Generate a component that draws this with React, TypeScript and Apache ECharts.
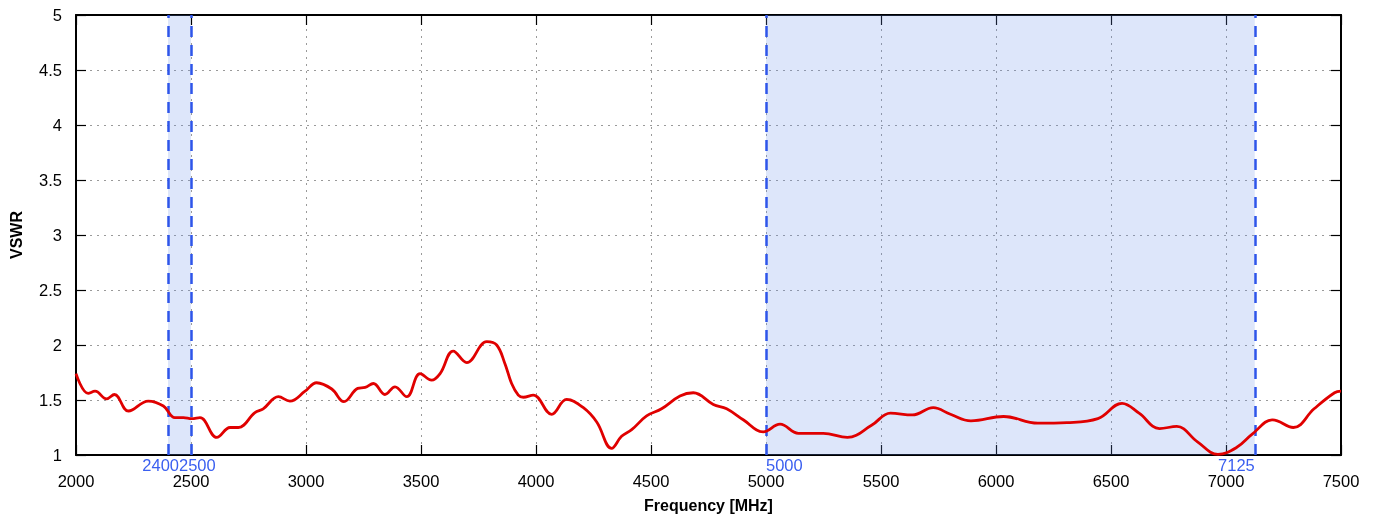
import React, { useEffect, useRef } from "react";
import * as echarts from "echarts";

const freqMHz = [
  2000, 2053, 2083, 2133, 2167, 2228, 2314, 2380, 2430, 2467, 2503, 2539, 2612, 2670, 2706, 2778, 2814, 2880, 2930, 2996,
  3046, 3112, 3165, 3225, 3257, 3293, 3343, 3387, 3438, 3496, 3546, 3583, 3640, 3699, 3786, 3829, 3865, 3894, 3923, 3945, 3988,
  4068, 4133, 4206, 4264, 4329, 4372, 4416, 4481, 4546, 4626, 4684, 4771, 4829, 4901, 4988,
  5061, 5141, 5249, 5354, 5459, 5541, 5637, 5727, 5802, 5891, 6033, 6182, 6309, 6443, 6548, 6622, 6711, 6786, 6876,
  6965, 7047, 7114, 7203, 7293, 7383, 7472, 7500,
];
const vswr = [
  1.74, 1.56, 1.58, 1.51, 1.55, 1.4, 1.49, 1.445, 1.34, 1.34, 1.33, 1.34, 1.16, 1.25, 1.25, 1.385, 1.42, 1.53, 1.49, 1.58,
  1.657, 1.6, 1.485, 1.606, 1.615, 1.65, 1.55, 1.62, 1.53, 1.74, 1.68, 1.74, 1.945, 1.84, 2.03, 2.0, 1.83, 1.65, 1.545, 1.525, 1.545,
  1.37, 1.506, 1.43, 1.3, 1.06, 1.17, 1.23, 1.355, 1.42, 1.536, 1.566, 1.46, 1.42, 1.32, 1.21,
  1.28, 1.197, 1.197, 1.16, 1.27, 1.38, 1.364, 1.43, 1.37, 1.31, 1.35, 1.29, 1.295, 1.33, 1.47, 1.38, 1.24, 1.26, 1.12,
  1.006, 1.07, 1.19, 1.32, 1.25, 1.42, 1.566, 1.58,
];
const bands: [number, number][] = [
  [2400, 2500],
  [5000, 7125],
];
const markerFreqs = [2400, 2500, 5000, 7125];
const markerAlign = ["right", "left", "left", "right"];
const markerShift = [11, -12, 0, 0];

const xMin = 2000;
const xMax = 7500;
const xStep = 500;
const yMin = 1;
const yMax = 5;
const yStep = 0.5;

const FONT = "'Liberation Sans', Arial, Helvetica, sans-serif";
const BLUE = "#2e55ea";

export default function App() {
  const ref = useRef<HTMLDivElement>(null);
  useEffect(() => {
    if (!ref.current) return;
    const chart = echarts.init(ref.current, undefined, { renderer: "svg" });
    const dataPts = freqMHz.map((f, i) => [f, vswr[i]]);
    const tickStyle = { show: true, inside: true, length: 10, lineStyle: { color: "#000", width: 1.2 } };
    const lineAxis = { show: true, lineStyle: { color: "#000", width: 2 } };
    chart.setOption({
      animation: false,
      textStyle: { fontFamily: FONT },
      grid: { left: 76, right: 37, top: 15, bottom: 63, containLabel: false, outerBoundsMode: "none" },
      xAxis: [
        {
          type: "value",
          min: xMin,
          max: xMax,
          interval: xStep,
          name: "Frequency [MHz]",
          nameLocation: "middle",
          nameGap: 42,
          nameTextStyle: { fontFamily: FONT, fontWeight: "bold", fontSize: 16, color: "#000" },
          axisLine: lineAxis,
          axisTick: tickStyle,
          axisLabel: { color: "#000", fontSize: 16.5, fontFamily: FONT, margin: 17, formatter: (v: number) => String(v) },
          splitLine: { show: true, lineStyle: { color: "#9a9a9a", width: 1, type: [2, 5] } },
        },
        {
          type: "value",
          position: "top",
          min: xMin,
          max: xMax,
          interval: xStep,
          axisLine: lineAxis,
          axisTick: tickStyle,
          axisLabel: { show: false },
          splitLine: { show: false },
        },
      ],
      yAxis: [
        {
          type: "value",
          min: yMin,
          max: yMax,
          interval: yStep,
          name: "VSWR",
          nameLocation: "middle",
          nameGap: 52,
          nameTextStyle: { fontFamily: FONT, fontWeight: "bold", fontSize: 16, color: "#000" },
          axisLine: lineAxis,
          axisTick: tickStyle,
          axisLabel: { color: "#000", fontSize: 16.5, fontFamily: FONT, margin: 14, formatter: (v: number) => String(v) },
          splitLine: { show: true, lineStyle: { color: "#9a9a9a", width: 1, type: [2, 5] } },
        },
        {
          type: "value",
          position: "right",
          min: yMin,
          max: yMax,
          interval: yStep,
          axisLine: lineAxis,
          axisTick: tickStyle,
          axisLabel: { show: false },
          splitLine: { show: false },
        },
      ],
      series: [
        {
          type: "line",
          xAxisIndex: 0,
          yAxisIndex: 0,
          data: dataPts,
          smooth: 0.4,
          showSymbol: false,
          symbol: "none",
          lineStyle: { color: "#e00000", width: 2.8 },
          z: 5,
          markArea: {
            silent: true,
            itemStyle: { color: "rgba(100,140,230,0.22)" },
            data: bands.map(([a, b]) => [{ xAxis: a }, { xAxis: b }]),
          },
          markLine: {
            silent: true,
            symbol: "none",
            label: { show: false },
            lineStyle: { color: BLUE, width: 2.5, type: [11, 8] },
            data: markerFreqs.map((f) => ({ xAxis: f })),
            z: 3,
          },
        },
      ],
    });
    const graphics = markerFreqs.map((f, i) => {
      const px = chart.convertToPixel({ xAxisIndex: 0 }, f) as number;
      return {
        type: "text",
        x: px + markerShift[i],
        y: 465,
        style: {
          text: String(f),
          fill: "#3a5ff0",
          font: `16.5px ${FONT}`,
          textAlign: markerAlign[i],
          textVerticalAlign: "middle",
        },
        z: 10,
      };
    });
    chart.setOption({ graphic: graphics });
    return () => chart.dispose();
  }, []);
  return <div ref={ref} style={{ position: "fixed", left: 0, top: 0, width: 1378, height: 518 }} />;
}
